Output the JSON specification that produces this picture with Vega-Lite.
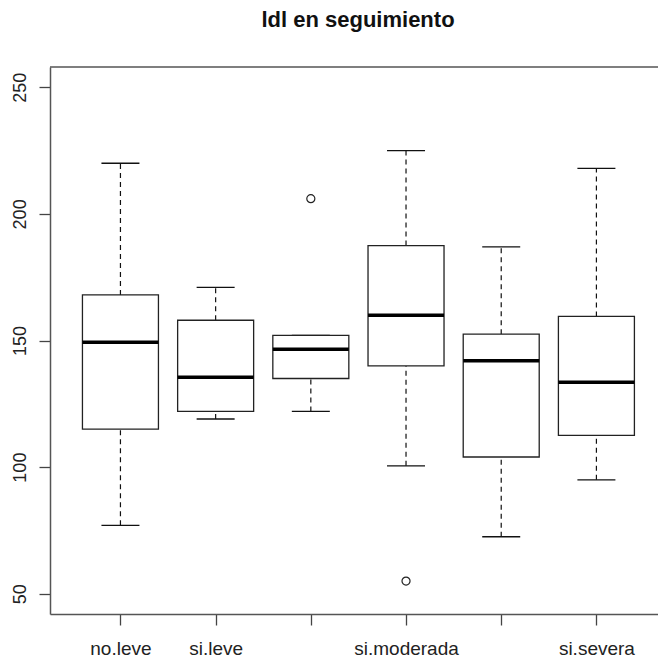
{
  "$schema": "https://vega.github.io/schema/vega-lite/v6.json",
  "width": 608,
  "height": 547,
  "autosize": {"type": "none"},
  "padding": {"left": 50, "top": 67, "right": 0, "bottom": 46},
  "background": "white",
  "title": {"text": "ldl en seguimiento", "font": "Liberation Sans", "fontSize": 22, "fontWeight": "bold", "color": "#111", "anchor": "middle", "dx": 4, "offset": 34},
  "config": {"view": {"stroke": null}, "scale": {"continuousPadding": 0}},
  "datasets": {
    "stats": [
      {"g": 1, "grupo": "no.leve", "lo": 77, "q1": 115, "med": 149.3, "q3": 168, "hi": 220},
      {"g": 2, "grupo": "si.leve", "lo": 119, "q1": 122, "med": 135.5, "q3": 158, "hi": 171},
      {"g": 3, "grupo": "no.moderada", "lo": 122, "q1": 135, "med": 146.5, "q3": 152, "hi": 152},
      {"g": 4, "grupo": "si.moderada", "lo": 100.5, "q1": 140, "med": 160, "q3": 187.5, "hi": 225},
      {"g": 5, "grupo": "no.severa", "lo": 72.5, "q1": 104, "med": 142, "q3": 152.5, "hi": 187},
      {"g": 6, "grupo": "si.severa", "lo": 95, "q1": 112.5, "med": 133.5, "q3": 159.5, "hi": 218}
    ],
    "outliers": [
      {"g": 3, "grupo": "no.moderada", "ldl": 206},
      {"g": 4, "grupo": "si.moderada", "ldl": 55}
    ],
    "frame": [{"top": 258}]
  },
  "layer": [
    {
      "data": {"name": "stats"},
      "mark": {"type": "rule", "color": "#111", "strokeWidth": 1.2, "strokeDash": [5, 4]},
      "encoding": {
        "x": {"field": "g", "type": "quantitative", "scale": {"domain": [0.26, 6.647], "nice": false, "zero": false, "padding": 0},
          "axis": {"title": null, "values": [1, 2, 3, 4, 5, 6], "grid": false, "tickSize": 11, "tickColor": "#444", "tickWidth": 1.3, "domainColor": "#555", "domainWidth": 1.5, "labelAngle": 0, "labelAlign": "center", "labelBaseline": "top", "labelPadding": 14, "labelFont": "Liberation Sans", "labelFontSize": 19, "labelColor": "#222", "labelOverlap": false, "labelFlush": false, "labelBound": false,
            "labelExpr": "datum.value == 1 ? 'no.leve' : datum.value == 2 ? 'si.leve' : datum.value == 4 ? 'si.moderada' : datum.value == 6 ? 'si.severa' : ''"}},
        "y": {"field": "q3", "type": "quantitative", "scale": {"domain": [42, 258], "nice": false, "zero": false, "padding": 0},
          "axis": {"title": null, "values": [50, 100, 150, 200, 250], "grid": false, "tickSize": 11, "tickColor": "#444", "tickWidth": 1.3, "domainColor": "#555", "domainWidth": 1.5, "labelAngle": 270, "labelAlign": "center", "labelBaseline": "bottom", "labelPadding": 10, "labelFont": "Liberation Sans", "labelFontSize": 18, "labelColor": "#222", "format": "d"}},
        "y2": {"field": "hi"}
      }
    },
    {
      "data": {"name": "stats"},
      "mark": {"type": "rule", "color": "#111", "strokeWidth": 1.2, "strokeDash": [5, 4]},
      "encoding": {
        "x": {"field": "g", "type": "quantitative"},
        "y": {"field": "lo", "type": "quantitative"},
        "y2": {"field": "q1"}
      }
    },
    {
      "data": {"name": "stats"},
      "mark": {"type": "tick", "orient": "horizontal", "size": 38, "thickness": 1.3, "color": "#111", "opacity": 1},
      "encoding": {
        "x": {"field": "g", "type": "quantitative"},
        "y": {"field": "hi", "type": "quantitative"}
      }
    },
    {
      "data": {"name": "stats"},
      "mark": {"type": "tick", "orient": "horizontal", "size": 38, "thickness": 1.3, "color": "#111", "opacity": 1},
      "encoding": {
        "x": {"field": "g", "type": "quantitative"},
        "y": {"field": "lo", "type": "quantitative"}
      }
    },
    {
      "data": {"name": "stats"},
      "mark": {"type": "bar", "width": 76, "fill": "white", "stroke": "#222", "strokeWidth": 1.3},
      "encoding": {
        "x": {"field": "g", "type": "quantitative"},
        "y": {"field": "q1", "type": "quantitative"},
        "y2": {"field": "q3"}
      }
    },
    {
      "data": {"name": "stats"},
      "mark": {"type": "tick", "orient": "horizontal", "size": 76, "thickness": 3.5, "color": "#000", "opacity": 1},
      "encoding": {
        "x": {"field": "g", "type": "quantitative"},
        "y": {"field": "med", "type": "quantitative"}
      }
    },
    {
      "data": {"name": "outliers"},
      "mark": {"type": "point", "shape": "circle", "filled": false, "size": 65, "stroke": "#222", "strokeWidth": 1.2, "opacity": 1},
      "encoding": {
        "x": {"field": "g", "type": "quantitative"},
        "y": {"field": "ldl", "type": "quantitative"}
      }
    },
    {
      "data": {"name": "frame"},
      "mark": {"type": "rule", "color": "#555", "strokeWidth": 1.5},
      "encoding": {
        "y": {"field": "top", "type": "quantitative"}
      }
    }
  ]
}
